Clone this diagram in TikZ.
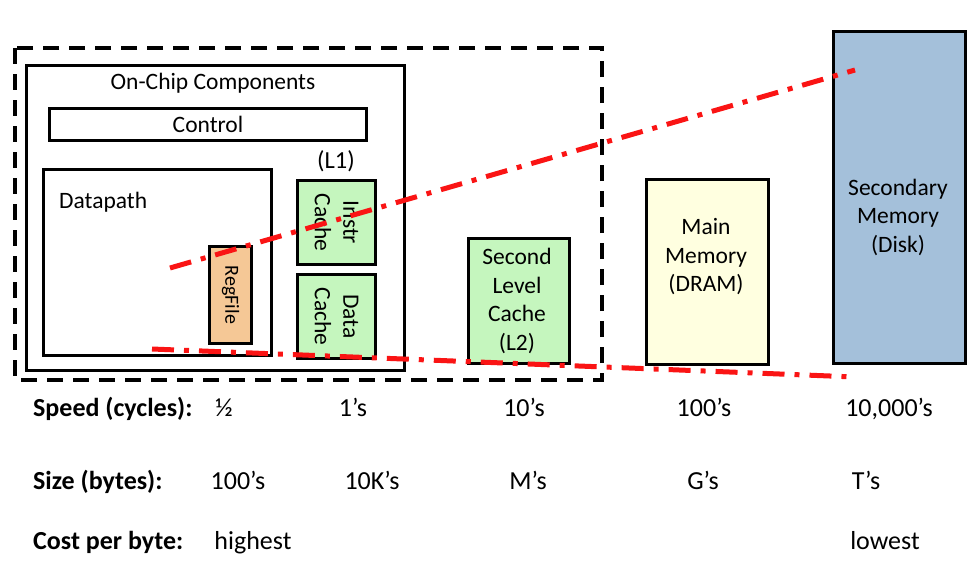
\documentclass[tikz,border=0pt]{standalone}
\usepackage{fontspec}
\setmainfont{Carlito}
\definecolor{cgreen}{RGB}{197,246,190}
\definecolor{corange}{RGB}{245,200,150}
\definecolor{cyellow}{RGB}{255,255,224}
\definecolor{cblue}{RGB}{164,192,218}
\definecolor{cred}{RGB}{250,20,20}
\begin{document}
\begin{tikzpicture}[x=1pt,y=-1pt,
  box/.style={draw=black,line width=3pt,inner sep=0pt,anchor=north west},
  lbl/.style={inner sep=0pt,font=\fontsize{23.5}{28.5}\selectfont,align=center},
  rowhead/.style={inner sep=0pt,anchor=base west,font=\fontsize{26}{30}\selectfont\bfseries},
  rowval/.style={inner sep=0pt,anchor=base,font=\fontsize{26}{30}\selectfont},
  reddash/.style={draw=cred,line width=5pt,dash pattern=on 22pt off 10pt on 5pt off 10pt},
  blackdash/.style={draw=black,line width=4.5pt,dash pattern=on 16pt off 10pt}]
\useasboundingbox (0,0) rectangle (980,584);
% dashed on-chip region
\draw[blackdash] (15,48) rectangle (602,380);
% on-chip components box
\node[box,minimum width=378pt,minimum height=305pt] (chip) at (25,64) {};
\node[lbl] (chiplbl) at (213,83) {On-Chip Components};
\node[box,minimum width=317pt,minimum height=32pt] (ctrl) at (48,107) {};
\node[lbl] at (ctrl.center) {Control};
\node[lbl] (l1) at (336,161) {\fontsize{24.5}{28}\selectfont(L1)};
\node[box,minimum width=228pt,minimum height=186pt] (dp) at (42,168) {};
\node[lbl,anchor=west] (dplbl) at (59,202) {Datapath};
\node[box,fill=corange,minimum width=42pt,minimum height=97pt] (rf) at (208,245) {};
\node[lbl,rotate=-90,font=\fontsize{20}{24}\selectfont] at (rf.center) {RegFile};
\node[box,fill=cgreen,minimum width=78pt,minimum height=84pt] (ic) at (296,179) {};
\node[lbl,rotate=-90] at (ic.center) {Instr\\Cache};
\node[box,fill=cgreen,minimum width=78pt,minimum height=84pt] (dc) at (296,273) {};
\node[lbl,rotate=-90] at (dc.center) {Data\\Cache};
% other levels
\node[box,fill=cgreen,minimum width=101pt,minimum height=125pt] (l2) at (467,237) {};
\node[lbl] at (517,301) {Second\\Level\\Cache\\(L2)};
\node[box,fill=cyellow,minimum width=122pt,minimum height=185pt] (mm) at (645,178) {};
\node[lbl] at (706,257) {Main\\Memory\\(DRAM)};
\node[box,fill=cblue,minimum width=132pt,minimum height=332pt] (sm) at (832,30) {};
\node[lbl] at (898,217) {Secondary\\Memory\\(Disk)};
% red pyramid lines
\coordinate (ua) at (170,268);
\coordinate (ub) at (855,70);
\coordinate (la) at (152,349);
\coordinate (lb) at (855,377);
\draw[reddash] (ua) -- (ub);
\draw[reddash] (la) -- (lb);
% rows
\node[rowhead] (sp) at (33,416) {Speed (cycles):};
\node[rowval] (sp1) at (224,416) {½};
\node[rowval] (sp2) at (353,416) {1’s};
\node[rowval] (sp3) at (524,416) {10’s};
\node[rowval] (sp4) at (704,416) {100’s};
\node[rowval] (sp5) at (889,416) {10,000’s};
\node[rowhead] (sz) at (33,489) {Size (bytes):};
\node[rowval] (sz1) at (238,489) {100’s};
\node[rowval] (sz2) at (372,489) {10K’s};
\node[rowval] (sz3) at (528,489) {M’s};
\node[rowval] (sz4) at (703,489) {G’s};
\node[rowval] (sz5) at (866,489) {T’s};
\node[rowhead] (cp) at (33,549) {Cost per byte:};
\node[rowval] (cp1) at (253,549) {highest};
\node[rowval] (cp2) at (885,549) {lowest};
\end{tikzpicture}
\end{document}
